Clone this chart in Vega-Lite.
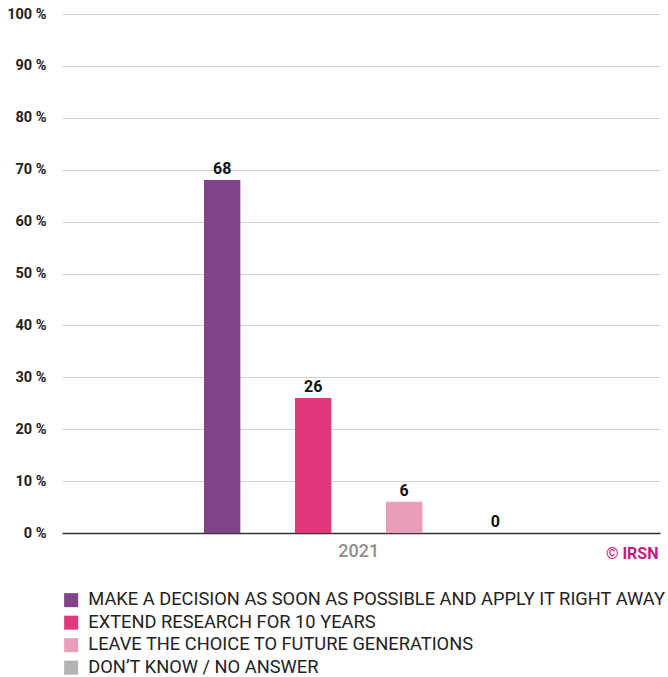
{
  "$schema": "https://vega.github.io/schema/vega-lite/v6.json",
  "autosize": {"type": "none"},
  "width": 598,
  "height": 519,
  "padding": {"left": 62, "top": 14, "right": 8, "bottom": 144},
  "background": "white",
  "config": {
    "font": "Roboto",
    "view": {"stroke": null}
  },
  "data": {
    "values": [
      {"year": "2021", "answer": "MAKE A DECISION AS SOON AS POSSIBLE AND APPLY IT RIGHT AWAY", "order": 1, "value": 68},
      {"year": "2021", "answer": "EXTEND RESEARCH FOR 10 YEARS", "order": 2, "value": 26},
      {"year": "2021", "answer": "LEAVE THE CHOICE TO FUTURE GENERATIONS", "order": 3, "value": 6},
      {"year": "2021", "answer": "DON’T KNOW / NO ANSWER", "order": 4, "value": 0}
    ]
  },
  "encoding": {
    "x": {
      "field": "year", "type": "nominal",
      "scale": {"paddingInner": 0, "paddingOuter": 0.466, "align": 0.492},
      "axis": {
        "title": "© IRSN", "titleAnchor": "end", "titleColor": "#C8187C", "titleFont": "Roboto",
        "titleFontSize": 16, "titleFontWeight": "bold", "titleY": 20, "titleX": 596, "titleAlign": "right", "titleBaseline": "middle",
        "labelAngle": 0, "labelFontSize": 18, "labelFontWeight": 500, "labelColor": "#8f8f8f", "labelPadding": 9,
        "ticks": false, "domainColor": "#333333", "domainWidth": 1.5
      }
    },
    "xOffset": {
      "field": "answer", "type": "nominal",
      "sort": {"field": "order"},
      "scale": {"paddingInner": 0.6, "paddingOuter": 0}
    },
    "y": {
      "field": "value", "type": "quantitative",
      "scale": {"domain": [0, 100]},
      "axis": {
        "title": null, "values": [0,10,20,30,40,50,60,70,80,90,100],
        "labelExpr": "datum.value + ' %'", "labelFontSize": 14.5, "labelFontWeight": "bold",
        "labelColor": "#222222", "labelPadding": 16, "ticks": false, "domain": false,
        "gridColor": "#d0d0d0", "gridWidth": 1
      }
    }
  },
  "layer": [
    {
      "mark": {"type": "bar"},
      "encoding": {
        "color": {
          "field": "answer", "type": "nominal",
          "sort": {"field": "order"},
          "scale": {
            "domain": ["MAKE A DECISION AS SOON AS POSSIBLE AND APPLY IT RIGHT AWAY", "EXTEND RESEARCH FOR 10 YEARS", "LEAVE THE CHOICE TO FUTURE GENERATIONS", "DON’T KNOW / NO ANSWER"],
            "range": ["#804387", "#E0387A", "#E99DBB", "#B3B3B3"]
          },
          "legend": {
            "title": null, "orient": "none", "legendX": 0, "legendY": 577, "direction": "vertical",
            "symbolType": "square", "symbolSize": 196, "symbolStrokeWidth": 0, "symbolOpacity": 1,
            "labelFontSize": 18.3, "labelColor": "#222222", "labelOffset": 8, "rowPadding": 3.5,
            "labelLimit": 700, "padding": 0, "offset": 0
          }
        }
      }
    },
    {
      "mark": {"type": "text", "baseline": "bottom", "dy": -3, "fontSize": 16, "fontWeight": "bold", "color": "#111111"},
      "encoding": {
        "text": {"field": "value", "type": "quantitative"}
      }
    }
  ]
}
